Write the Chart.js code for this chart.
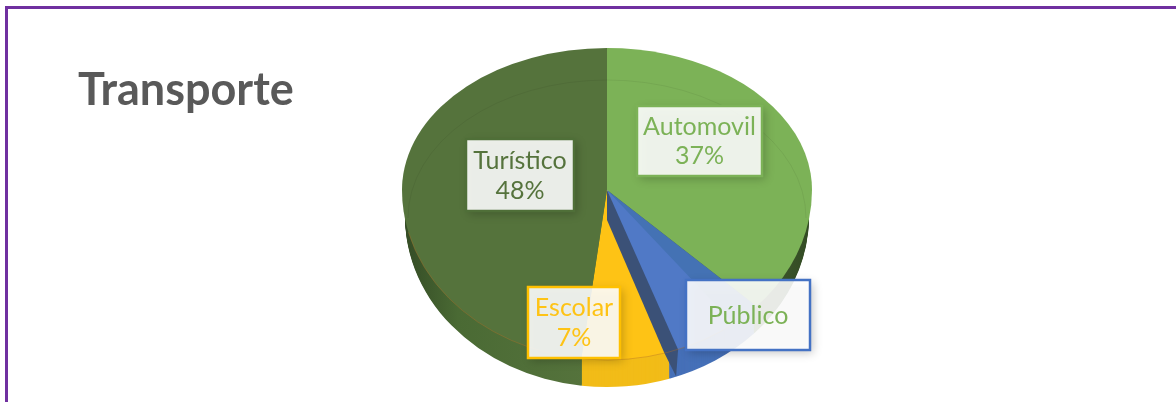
<!DOCTYPE html>
<html>
<head>
<meta charset="utf-8">
<title>Transporte</title>
<script src="https://cdn.jsdelivr.net/npm/chart.js@4"></script>
<style>
  html, body { margin: 0; background: #fff; overflow: hidden; }
  #marco { position: absolute; left: 5px; top: 6px; right: -8px; bottom: -8px; border: 3px solid #7030A0; }
  canvas { position: absolute; left: 0; top: 0; }
</style>
</head>
<body>
<div id="marco"></div>
<canvas id="transporte" width="1176" height="402"></canvas>
<script>
const categorias = ['Automovil', 'Público', 'Escolar', 'Turístico'];
const valores = [37, 8, 7, 48];
const muestraPorcentaje = [true, false, true, true];
const coloresCara = ['#7CB257', '#4472B4', '#FEC315', '#55733C'];
const coloresTexto = ['#7CB257', '#7CB257', '#FEC315', '#55733C'];
const coloresBorde = ['#7CB257', '#4472C4', '#FFC000', '#4F6F38'];

const ctx = document.getElementById('transporte');

// donde cae cada recuadro de texto
const cajas = [
    { x: 637, y: 106, w: 125, h: 70 },
    { x: 686, y: 280, w: 124, h: 70 },
    { x: 528, y: 287, w: 92, h: 71 },
    { x: 466, y: 139, w: 108, h: 72 }
];

const CX = 607, CY = 190;
const RADIO = 205, ARRIBA = 142, ABAJO = 170, GROSOR = 27;

// La tarta 3D se hace con los mismos arcos de Chart.js: mitad de arriba y de abajo con distinta escala
const escalar = (c, el, sy, rx = RADIO) => {
    c.translate(el.x, el.y);
    c.scale(rx / el.outerRadius, sy / el.outerRadius);
    c.translate(-el.x, -el.y);
};

const conColor = (el, color, c) => {
    const original = el.options;
    el.options = Object.assign({}, original, { backgroundColor: color, borderColor: color, borderWidth: 0 });
    el.draw(c);
    el.options = original;
};

const cuna = (el, desde, hasta, color, c) => {
    const a = el.startAngle, b = el.endAngle;
    el.startAngle = a + (b - a) * desde;
    el.endAngle = a + (b - a) * hasta;
    conColor(el, color, c);
    el.startAngle = a;
    el.endAngle = b;
};

// punto del borde delantero para un angulo del arco
const puntoBorde = (ang) => [CX + RADIO * Math.cos(ang), CY + ABAJO * Math.sin(ang)];

const tarta3d = {
    id: 'tarta3d',
    beforeDatasetsDraw(chart) {
        const c = chart.ctx;
        const arcos = chart.getDatasetMeta(0).data;

        const gris = c.createLinearGradient(CX - RADIO, 0, CX - 20, 0);
        gris.addColorStop(0, '#2E4321');
        gris.addColorStop(0.35, '#4A6A34');
        gris.addColorStop(1, '#55733C');
        const verde = c.createLinearGradient(CX + 100, 0, CX + RADIO, 0);
        verde.addColorStop(0, '#4C6C36');
        verde.addColorStop(1, '#2F4521');
        const lados = [verde, '#4670B8', '#F2BC18', gris];

        // pared lateral, un poco mas estrecha para que salga por debajo sin escalon
        for (let d = GROSOR; d > 0; d--) {
            arcos.forEach((el, i) => {
                c.save();
                c.translate(0, d);
                c.beginPath();
                c.rect(0, CY, chart.width, chart.height);
                c.clip();
                escalar(c, el, ABAJO, RADIO * 0.985);
                conColor(el, lados[i], c);
                c.restore();
            });
        }

        // cara superior, en dos mitades
        [[0, CY, ARRIBA], [CY, chart.height, ABAJO]].forEach(([y0, y1, sy]) => {
            c.save();
            c.beginPath();
            c.rect(0, y0, chart.width, y1 - y0);
            c.clip();
            arcos.forEach((el, i) => {
                c.save();
                escalar(c, el, sy);
                conColor(el, coloresCara[i], c);
                if (i === 1) {
                    cuna(el, 0.3, 1, '#5079C6', c);
                }
                c.restore();
            });
            c.restore();
        });

        // pared oscura entre Público y Escolar
        const fin = arcos[1].endAngle;
        const der = puntoBorde(fin - 0.04);
        const izq = puntoBorde(fin + 0.03);
        c.save();
        c.fillStyle = '#3B5177';
        c.beginPath();
        c.moveTo(CX, CY);
        c.lineTo(der[0], der[1]);
        c.lineTo(der[0] - 2, der[1] + GROSOR);
        c.lineTo(izq[0], izq[1]);
        c.lineTo(CX, CY + 30);
        c.closePath();
        c.fill();
        c.restore();

        // aro fino del bisel y borde delantero
        c.save();
        c.strokeStyle = 'rgba(0,0,0,0.06)';
        c.lineWidth = 1;
        c.beginPath();
        c.ellipse(CX, 218, RADIO - 6, 138, 0, Math.PI, 2 * Math.PI);
        c.stroke();
        c.restore();
        c.save();
        escalar(c, arcos[0], ABAJO);
        c.beginPath();
        c.arc(arcos[0].x, arcos[0].y, arcos[0].outerRadius, Math.PI * 0.28, Math.PI * 0.92);
        c.restore();
        c.strokeStyle = 'rgba(176,110,40,0.4)';
        c.lineWidth = 1;
        c.stroke();

        return false;
    },
    afterDraw(chart) {
        const c = chart.ctx;

        // titulo
        c.save();
        c.fillStyle = '#595959';
        c.font = 'bold 45px Lato';
        c.textAlign = 'left';
        c.textBaseline = 'alphabetic';
        c.fillText('Transporte', 78, 105);
        c.restore();

        // recuadros de texto
        categorias.forEach((nombre, i) => {
            const b = cajas[i];
            c.save();
            c.shadowColor = 'rgba(0,0,0,0.25)';
            c.shadowBlur = 9;
            c.shadowOffsetX = 3;
            c.shadowOffsetY = 3;
            c.fillStyle = 'rgba(255,255,255,0.89)';
            c.fillRect(b.x, b.y, b.w, b.h);
            c.shadowColor = 'transparent';
            c.strokeStyle = coloresBorde[i];
            c.lineWidth = 2.5;
            c.strokeRect(b.x, b.y, b.w, b.h);

            c.fillStyle = coloresTexto[i];
            c.font = '25px Lato';
            c.textAlign = 'center';
            c.textBaseline = 'middle';
            const mx = b.x + b.w / 2;
            if (muestraPorcentaje[i]) {
                c.fillText(nombre, mx, b.y + b.h * 0.3);
                c.fillText(valores[i] + '%', mx, b.y + b.h * 0.72);
            } else {
                c.fillText(nombre, mx, b.y + b.h * 0.52);
            }
            c.restore();
        });
    }
};

new Chart(ctx, {
    type: 'pie',
    data: {
        labels: categorias,
        datasets: [{
            data: valores,
            backgroundColor: coloresCara,
            borderWidth: 0
        }]
    },
    options: {
        responsive: false,
        animation: false,
        layout: { padding: { left: 38, right: 0, top: 0, bottom: 22 } },
        plugins: {
            legend: { display: false },
            title: { display: false },
            tooltip: { enabled: false }
        }
    },
    plugins: [tarta3d]
});
</script>
</body>
</html>
